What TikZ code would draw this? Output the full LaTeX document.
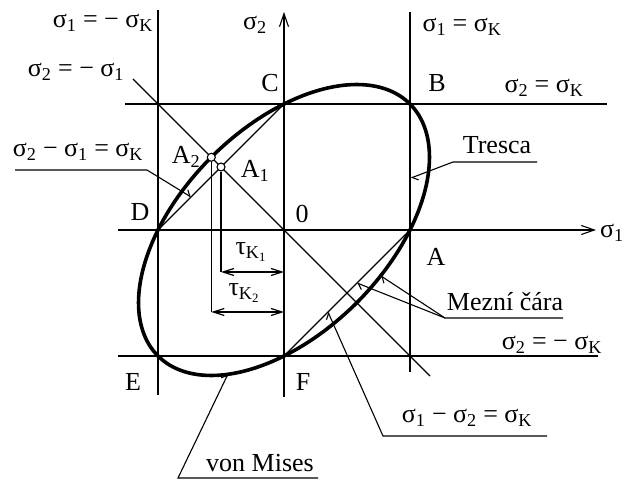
\documentclass[tikz,border=0pt]{standalone}
\usepackage{fontspec}
\setmainfont{Liberation Serif}
\usetikzlibrary{arrows.meta}
\newcommand{\sgm}[1]{σ\textsubscript{#1}}
\begin{document}
\begin{tikzpicture}[x=1pt,y=-1pt,
  thinline/.style={line width=1.2pt},
  limit/.style={line width=3.6pt},
  lbl/.style={font=\fontsize{26}{29}\selectfont, inner sep=0pt},
  axis/.style={line width=1.2pt, -{Straight Barb[length=13pt,width=9pt,line width=1.1pt]}},
  dim/.style={line width=1.2pt, {Straight Barb[length=11pt,width=7pt]}-{Straight Barb[length=11pt,width=7pt]}},
  leader/.style={line width=1.1pt, -{Straight Barb[harpoon,length=5pt,width=9pt]}},
  pt/.style={circle, draw, fill=white, line width=1.1pt, minimum size=8pt, inner sep=0pt}
]
\useasboundingbox (0,0) rectangle (632,481);
% key points
\coordinate (O) at (284,230);
\coordinate (A) at (410,230);
\coordinate (B) at (410,104);
\coordinate (C) at (284,104);
\coordinate (D) at (158,230);
\coordinate (E) at (158,356);
\coordinate (F) at (284,356);
% line ends
\coordinate (x1s) at (118,230); \coordinate (x1e) at (596,230);
\coordinate (x2s) at (284,397); \coordinate (x2e) at (284,12);
\coordinate (Lt) at (158,10);  \coordinate (Lb) at (158,395);
\coordinate (Rt) at (410,12);  \coordinate (Rb) at (410,372);
\coordinate (Tl) at (125,104); \coordinate (Tr) at (607,104);
\coordinate (Bl) at (118,356); \coordinate (Br) at (598,356);
\coordinate (Ds) at (133,79);  \coordinate (De) at (430,376);
% axes and Tresca lines
\draw[axis] (x1s) -- (x1e);
\draw[axis] (x2s) -- (x2e);
\draw[thinline] (Lt) -- (Lb);
\draw[thinline] (Rt) -- (Rb);
\draw[thinline] (Tl) -- (Tr);
\draw[thinline] (Bl) -- (Br);
\draw[thinline] (Ds) -- (De);
\draw[thinline] (D) -- (C);
\draw[thinline] (F) -- (A);
% von Mises ellipse
\draw[limit] plot[smooth cycle, samples=90, domain=0:356]
  ({284+126*(cos(\x)+sin(\x)/sqrt(3))},{230-126*(cos(\x)-sin(\x)/sqrt(3))});
% points A1, A2 and tau dimensions
\node[pt] (a1) at (221,167) {};
\node[pt] (a2) at (211.3,157.3) {};
\coordinate (t1l) at (221,272);   \coordinate (t1r) at (284,272);
\coordinate (t2l) at (211.3,312); \coordinate (t2r) at (284,312);
\draw[thinline] (a1) -- (t1l);
\draw[thinline] (a2) -- (t2l);
\draw[dim] (t1l) -- (t1r);
\draw[dim] (t2l) -- (t2r);
% labels
\node[lbl] (l1) at (103,23) {\sgm{1} = − σ\textsubscript{K}};
\node[lbl] (l2) at (76,72) {\sgm{2} = − \sgm{1}};
\node[lbl] (l3) at (78,152) {\sgm{2} − \sgm{1} = σ\textsubscript{K}};
\node[lbl] (s2) at (255,25) {\sgm{2}};
\node[lbl] (l4) at (462,27) {\sgm{1} = σ\textsubscript{K}};
\node[lbl] (lC) at (270,83) {C};
\node[lbl] (lB) at (437,83) {B};
\node[lbl] (l5) at (544,88) {\sgm{2} = σ\textsubscript{K}};
\node[lbl] (tr) at (497,145) {Tresca};
\node[lbl] (lA2) at (186,157) {A\textsubscript{2}};
\node[lbl] (lA1) at (255,171) {A\textsubscript{1}};
\node[lbl] (lD) at (140,212) {D};
\node[lbl] (l0) at (302,214) {0};
\node[lbl, anchor=west] (s1) at (600,233) {\sgm{1}};
\node[lbl] (lA) at (436,257) {A};
\node[lbl] (tk1) at (251,252) {τ\textsubscript{K\textsubscript{1}}};
\node[lbl] (tk2) at (244,293) {τ\textsubscript{K\textsubscript{2}}};
\node[lbl] (mz) at (505,302) {Mezní čára};
\node[lbl] (l6) at (552,345) {\sgm{2} = − σ\textsubscript{K}};
\node[lbl] (lE) at (133,382) {E};
\node[lbl] (lF) at (303,382) {F};
\node[lbl] (l7) at (467,418) {\sgm{1} − \sgm{2} = σ\textsubscript{K}};
\node[lbl] (vm) at (260,463) {von Mises};
% leaders
\coordinate (trU) at (537,162); \coordinate (trK) at (453,162); \coordinate (trT) at (411,178);
\draw[leader] (trU) -- (trK) -- (trT);
\coordinate (l3U) at (15,170); \coordinate (l3K) at (147,170); \coordinate (l3T) at (191,197);
\draw[leader] (l3U) -- (l3K) -- (l3T);
\coordinate (mzU) at (563,318); \coordinate (mzK) at (445,318);
\coordinate (mzT1) at (381,276); \coordinate (mzT2) at (357,283);
\draw[leader] (mzU) -- (mzK) -- (mzT1);
\draw[leader] (mzK) -- (mzT2);
\coordinate (l7U) at (547,436); \coordinate (l7K) at (383,436); \coordinate (l7T) at (328,312);
\draw[leader] (l7U) -- (l7K) -- (l7T);
\coordinate (vmU) at (318,478); \coordinate (vmK) at (178,478); \coordinate (vmT) at (228,374);
\draw[leader] (vmU) -- (vmK) -- (vmT);
\end{tikzpicture}
\end{document}
